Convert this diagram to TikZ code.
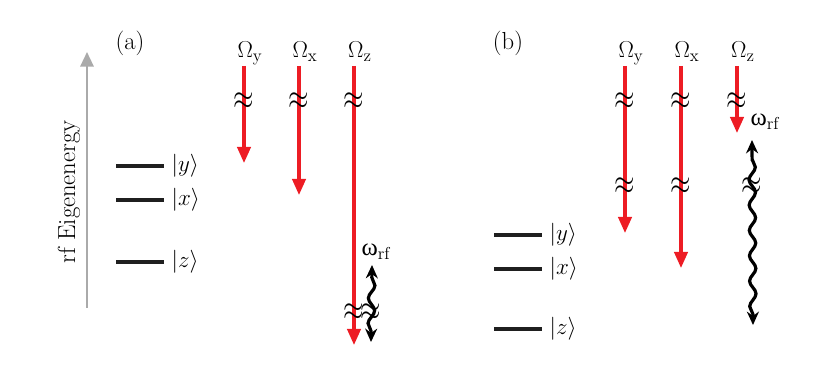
\documentclass[tikz,border=0pt]{standalone}
\usepackage{fontspec}
\newfontfamily\grkfont{Liberation Serif}
\usetikzlibrary{arrows.meta,decorations.pathmorphing}
\definecolor{laser}{RGB}{237,28,36}
\definecolor{axisgray}{RGB}{170,170,170}
\begin{document}
\begin{tikzpicture}[x=0.75pt,y=-0.75pt,
  every node/.style={font=\fontsize{18.5}{22}\selectfont, inner sep=1pt},
  level/.style={line width=2.5pt, black!88},
  pump/.style={draw=laser, line width=2.3pt, -{Triangle[length=12pt,width=10pt]}},
  rfwave/.style={line width=2.4pt, {Stealth[length=10pt,width=9pt]}-{Stealth[length=10pt,width=9pt]},
     decorate, decoration={snake, amplitude=2.4pt, segment length=19pt, pre length=8pt, post length=8pt}},
  brk/.style={font=\fontsize{21}{21}\selectfont, inner sep=0pt, xscale=0.95, yscale=1.25},
  omlab/.style={anchor=base}]
\useasboundingbox (0,0) rectangle (829,377);

% ---------- (a) ----------
\node (la) at (130,43) {(a)};
\coordinate (ebot) at (87,308);
\coordinate (etop) at (87,52);
\draw[axisgray, line width=1.7pt, -{Triangle[length=11pt,width=10pt]}] (ebot) -- (etop);
\node[rotate=90] (elab) at (69,192) {rf Eigenenergy};

\coordinate (ya0) at (116,166); \coordinate (ya1) at (164,166);
\coordinate (xa0) at (116,200); \coordinate (xa1) at (164,200);
\coordinate (za0) at (116,262); \coordinate (za1) at (164,262);
\draw[level] (ya0) -- (ya1);
\draw[level] (xa0) -- (xa1);
\draw[level] (za0) -- (za1);
\node[anchor=west] (yal) at (170,166) {$|y\rangle$};
\node[anchor=west] (xal) at (170,200) {$|x\rangle$};
\node[anchor=west] (zal) at (170,262) {$|z\rangle$};

\node[omlab] (Oya) at (250,58) {$\Omega_{\mathrm{y}}$};
\node[omlab] (Oxa) at (305,58) {$\Omega_{\mathrm{x}}$};
\node[omlab] (Oza) at (360,58) {$\Omega_{\mathrm{z}}$};
\coordinate (ya_s) at (244,66); \coordinate (ya_e) at (244,163);
\coordinate (xa_s) at (299,66); \coordinate (xa_e) at (299,195);
\coordinate (za_s) at (354,66); \coordinate (za_e) at (354,345);
\draw[pump] (ya_s) -- (ya_e);
\draw[pump] (xa_s) -- (xa_e);
\draw[pump] (za_s) -- (za_e);
\node[brk] (b1) at (244,101) {$\approx$};
\node[brk] (b2) at (299,101) {$\approx$};
\node[brk] (b3) at (354,101) {$\approx$};
\node[brk] (b4) at (354,312) {$\approx$};

\coordinate (wa_b) at (371,342);
\coordinate (wa_t) at (372,265);
\draw[rfwave] (wa_b) -- (wa_t);
\node[brk] (b5) at (371,312) {$\approx$};
\node (wla) at (376,252) {{\grkfont ω}$_{\mathrm{rf}}$};

% ---------- (b) ----------
\node (lb) at (508,43) {(b)};
\coordinate (yb0) at (494,235); \coordinate (yb1) at (542,235);
\coordinate (xb0) at (494,269); \coordinate (xb1) at (542,269);
\coordinate (zb0) at (494,329); \coordinate (zb1) at (542,329);
\draw[level] (yb0) -- (yb1);
\draw[level] (xb0) -- (xb1);
\draw[level] (zb0) -- (zb1);
\node[anchor=west] (ybl) at (548,235) {$|y\rangle$};
\node[anchor=west] (xbl) at (548,269) {$|x\rangle$};
\node[anchor=west] (zbl) at (548,329) {$|z\rangle$};

\node[omlab] (Oyb) at (631,58) {$\Omega_{\mathrm{y}}$};
\node[omlab] (Oxb) at (687,58) {$\Omega_{\mathrm{x}}$};
\node[omlab] (Ozb) at (743,58) {$\Omega_{\mathrm{z}}$};
\coordinate (yb_s) at (625,66); \coordinate (yb_e) at (625,233);
\coordinate (xb_s) at (681,66); \coordinate (xb_e) at (681,268);
\coordinate (zb_s) at (737,66); \coordinate (zb_e) at (737,133);
\draw[pump] (yb_s) -- (yb_e);
\draw[pump] (xb_s) -- (xb_e);
\draw[pump] (zb_s) -- (zb_e);
\node[brk] (c1) at (625,101) {$\approx$};
\node[brk] (c2) at (681,101) {$\approx$};
\node[brk] (c3) at (737,101) {$\approx$};
\node[brk] (c4) at (625,186) {$\approx$};
\node[brk] (c5) at (681,186) {$\approx$};

\coordinate (wb_t) at (752,140);
\coordinate (wb_b) at (753,325);
\draw[rfwave] (wb_b) -- (wb_t);
\node[brk] (c6) at (752,186) {$\approx$};
\node (wlb) at (765,122) {{\grkfont ω}$_{\mathrm{rf}}$};
\end{tikzpicture}
\end{document}
